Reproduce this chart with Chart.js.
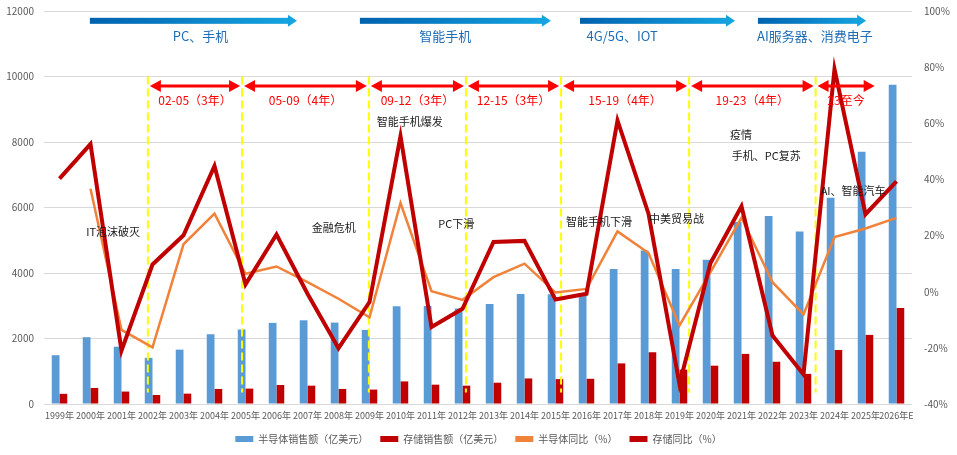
<!DOCTYPE html>
<html>
<head>
<meta charset="utf-8">
<script src="https://cdn.jsdelivr.net/npm/chart.js@4.4.0/dist/chart.umd.min.js"></script>
<style>
  body { margin: 0; background: #fff; }
  #wrap { width: 957px; height: 455px; }
</style>
</head>
<body>
<div id="wrap"><canvas id="memChart"></canvas></div>
<script>
// 数据
const categories = ['1999年', '2000年', '2001年', '2002年', '2003年', '2004年', '2005年', '2006年', '2007年',
    '2008年', '2009年', '2010年', '2011年', '2012年', '2013年', '2014年', '2015年', '2016年', '2017年',
    '2018年', '2019年', '2020年', '2021年', '2022年', '2023年', '2024年', '2025年', '2026年E'];
const semiSales = [1490, 2040, 1750, 1410, 1660, 2130, 2275, 2477, 2556, 2486, 2263, 2983, 2995, 2916,
    3056, 3358, 3352, 3390, 4122, 4688, 4123, 4404, 5559, 5741, 5270, 6300, 7700, 9750];
const memSales = [310, 490, 380, 275, 316, 460, 470, 580, 560, 460, 440, 690, 590, 560,
    650, 780, 760, 770, 1240, 1580, 1050, 1170, 1530, 1290, 920, 1650, 2110, 2930];
const semiYoY = [null, 36.7, -13.6, -19.8, 16.9, 27.8, 6.4, 9.0, 3.4, -2.5, -9.1, 31.6, 0.2, -2.9,
    5.2, 10.0, -0.3, 1.0, 21.5, 13.8, -12.0, 7.0, 26.4, 3.4, -8.1, 19.5, 22.5, 26.3];
const memYoY = [40.3, 52.6, -21.0, 9.7, 20.1, 44.8, 2.6, 20.4, -0.7, -20.1, -3.7, 55.4, -12.6, -6.1,
    17.7, 18.1, -2.8, -0.7, 61.0, 27.8, -32.9, 10.2, 30.4, -15.6, -29.5, 79.3, 27.6, 39.3];
const leftTicks = [0, 2000, 4000, 6000, 8000, 10000, 12000];
const rightTicks = [-40, -20, 0, 20, 40, 60, 80, 100];

// 阶段、周期和事件标注
const eras = ['PC、手机', '智能手机', '4G/5G、IOT', 'AI服务器、消费电子'];
const cycles = ['02-05（3年）', '05-09（4年）', '09-12（3年）', '12-15（3年）', '15-19（4年）', '19-23（4年）', '23至今'];
const events = ['IT泡沫破灭', '金融危机', '智能手机爆发', 'PC下滑', '智能手机下滑', '中美贸易战', '疫情', '手机、PC复苏', 'AI、智能汽车'];

// 标注的位置（类目序号 / 左轴数值）
const eraPos = [[0.98, 7.66, 4.55], [9.69, 15.85, 12.44], [16.79, 21.79, 18.15], [22.53, 26.02, 24.37]];
const cycleEdges = [2.85, 5.89, 9.98, 13.11, 16.18, 20.31, 24.39, 26.36];
const eventPos = [[1.73, 5270], [8.85, 5395], [11.3, 8608], [12.8, 5517], [17.4, 5548], [19.9, 5640],
    [21.98, 8210], [22.8, 7567], [25.6, 6496]];

const FONT = '"Noto Sans CJK SC", "Noto Sans", sans-serif';

function arrowHead(ctx, x, y, dir, len, half) {
    ctx.beginPath();
    ctx.moveTo(x, y);
    ctx.lineTo(x - dir * len, y - half);
    ctx.lineTo(x - dir * len, y + half);
    ctx.closePath();
    ctx.fill();
}

// 纵轴宽度固定，去掉刻度 padding 带来的上下留白
function fixSide(width) {
    return function(axis) {
        axis.width = width;
        axis.paddingTop = 6;
        axis.paddingBottom = 0;
    };
}

// 黄色虚线画在柱子上面、折线下面
const cycleLines = {
    id: 'cycleLines',
    afterDatasetDraw(chart, args) {
        if (args.index !== 0) return;
        const ctx = chart.ctx, xs = chart.scales.x, ys = chart.scales.y;
        ctx.save();
        ctx.strokeStyle = '#FFFF00';
        ctx.lineWidth = 2;
        ctx.setLineDash([8, 4]);
        cycleEdges.slice(0, 7).forEach(function(i) {
            const x = xs.getPixelForValue(i);
            ctx.beginPath();
            ctx.moveTo(x, ys.getPixelForValue(10000));
            ctx.lineTo(x, ys.getPixelForValue(350));
            ctx.stroke();
        });
        ctx.restore();
    }
};

const annotations = {
    id: 'annotations',
    afterDraw(chart) {
        const ctx = chart.ctx, xs = chart.scales.x, ys = chart.scales.y;
        ctx.save();
        ctx.textAlign = 'center';
        ctx.textBaseline = 'middle';

        // 蓝色阶段箭头
        eraPos.forEach(function(p, k) {
            const x0 = xs.getPixelForValue(p[0]), x1 = xs.getPixelForValue(p[1]);
            const y = ys.getPixelForValue(11700);
            const g = ctx.createLinearGradient(x0, 0, x1, 0);
            g.addColorStop(0, '#0062AE');
            g.addColorStop(1, '#16A6E2');
            ctx.fillStyle = g;
            ctx.fillRect(x0, y - 3, x1 - x0 - 8, 6);
            arrowHead(ctx, x1, y, 1, 9, 6);
            ctx.fillStyle = '#1F6DB6';
            ctx.font = '13px ' + FONT;
            ctx.fillText(eras[k], xs.getPixelForValue(p[2]), ys.getPixelForValue(11240));
        });

        // 红色周期双箭头
        ctx.strokeStyle = '#FF0000';
        ctx.fillStyle = '#FF0000';
        ctx.lineWidth = 3;
        for (let k = 0; k < cycles.length; k++) {
            const x0 = xs.getPixelForValue(cycleEdges[k]) + 2;
            const x1 = xs.getPixelForValue(cycleEdges[k + 1]) - 2;
            const y = ys.getPixelForValue(9710);
            ctx.beginPath();
            ctx.moveTo(x0 + 8, y);
            ctx.lineTo(x1 - 8, y);
            ctx.stroke();
            arrowHead(ctx, x0, y, -1, 11, 6);
            arrowHead(ctx, x1, y, 1, 11, 6);
            ctx.font = '12px ' + FONT;
            ctx.fillText(cycles[k], (x0 + x1) / 2, ys.getPixelForValue(9280));
        }

        // 事件文字
        ctx.fillStyle = '#1a1a1a';
        ctx.font = '11px ' + FONT;
        events.forEach(function(t, k) {
            ctx.fillText(t, xs.getPixelForValue(eventPos[k][0]), ys.getPixelForValue(eventPos[k][1]));
        });
        ctx.restore();
    }
};

const data = {
    labels: categories,
    datasets: [{
        label: '半导体销售额（亿美元）',
        data: semiSales,
        backgroundColor: '#5B9BD5',
        yAxisID: 'y',
        order: 2
    }, {
        label: '存储销售额（亿美元）',
        data: memSales,
        backgroundColor: '#C00000',
        yAxisID: 'y',
        order: 2
    }, {
        type: 'line',
        label: '半导体同比（%）',
        data: semiYoY,
        borderColor: '#F0823A',
        backgroundColor: '#F0823A',
        borderWidth: 2.5,
        pointRadius: 0,
        tension: 0,
        yAxisID: 'y1',
        order: 1
    }, {
        type: 'line',
        label: '存储同比（%）',
        data: memYoY,
        borderColor: '#C00000',
        backgroundColor: '#C00000',
        borderWidth: 4,
        borderJoinStyle: 'miter',
        pointRadius: 0,
        tension: 0,
        yAxisID: 'y1',
        order: 0
    }]
};

const config = {
    type: 'bar',
    data: data,
    options: {
        responsive: true,
        maintainAspectRatio: false,
        animation: false,
        layout: { padding: { top: 11, left: 0, right: 0, bottom: 1 } },
        datasets: { bar: { categoryPercentage: 0.5, barPercentage: 1.0 } },
        scales: {
            x: {
                afterFit: function(axis) { axis.height = 18; },
                grid: { display: false, drawTicks: false },
                border: { display: false },
                ticks: { color: '#595959', font: { size: 9, family: FONT }, maxRotation: 0, autoSkip: false, padding: 6 }
            },
            y: {
                position: 'left',
                min: 0,
                max: 12000,
                afterBuildTicks: function(axis) { axis.ticks = leftTicks.map(v => ({ value: v })); },
                afterFit: fixSide(44),
                grid: { color: '#D9D9D9', drawTicks: false },
                border: { display: false },
                ticks: { color: '#595959', font: { size: 10, family: FONT }, padding: 10, callback: v => String(v) }
            },
            y1: {
                position: 'right',
                min: -40,
                max: 100,
                afterBuildTicks: function(axis) { axis.ticks = rightTicks.map(v => ({ value: v })); },
                afterFit: fixSide(45),
                grid: { display: false, drawTicks: false },
                border: { display: false },
                ticks: { color: '#595959', font: { size: 10, family: FONT }, padding: 12, callback: v => v + '%' }
            }
        },
        plugins: {
            tooltip: { enabled: false },
            legend: {
                position: 'bottom',
                labels: {
                    color: '#595959',
                    font: { size: 10, family: FONT },
                    boxWidth: 18,
                    boxHeight: 6,
                    padding: 12,
                    sort: (a, b) => a.datasetIndex - b.datasetIndex,
                    generateLabels: function(chart) {
                        return Chart.defaults.plugins.legend.labels.generateLabels(chart)
                            .map(l => Object.assign(l, { lineWidth: 0 }));
                    }
                }
            }
        }
    },
    plugins: [cycleLines, annotations]
};

const memChart = document.getElementById('memChart');
memChart.chart = new Chart(memChart, config);
</script>
</body>
</html>
